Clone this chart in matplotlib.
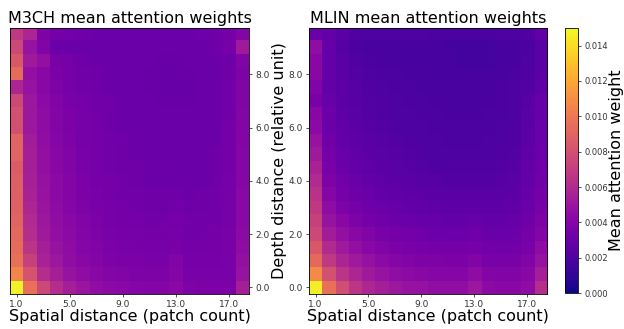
import numpy as np
import matplotlib
matplotlib.use("Agg")
import matplotlib.pyplot as plt

# mean attention weights (x1e-3), rows = depth 0.0 .. 9.5 (step 0.5), cols = spatial 1..18
m3ch_weights = [
    [14.8, 9.6, 7.6, 6.2, 5.4, 4.9, 4.5, 4.3, 4.2, 4.1, 4.0, 4.0, 4.2, 3.8, 3.7, 3.7, 3.7, 5.4],
    [10.6, 8.2, 6.2, 5.4, 4.8, 4.4, 4.2, 4.0, 3.9, 3.8, 3.8, 3.8, 4.0, 3.6, 3.6, 3.6, 3.6, 4.8],
    [9.6, 7.2, 5.6, 5.0, 4.5, 4.2, 4.0, 3.8, 3.7, 3.7, 3.6, 3.6, 3.9, 3.5, 3.5, 3.5, 3.6, 4.6],
    [9.4, 6.6, 5.4, 4.8, 4.4, 4.1, 3.9, 3.7, 3.6, 3.6, 3.5, 3.5, 3.6, 3.4, 3.4, 3.4, 3.6, 4.4],
    [9.2, 6.2, 5.2, 4.6, 4.3, 4.0, 3.8, 3.6, 3.5, 3.5, 3.4, 3.4, 3.5, 3.3, 3.3, 3.4, 3.6, 4.3],
    [9.0, 6.0, 5.0, 4.5, 4.2, 3.9, 3.7, 3.5, 3.4, 3.4, 3.3, 3.3, 3.4, 3.3, 3.3, 3.3, 3.5, 4.2],
    [8.9, 5.8, 4.9, 4.4, 4.1, 3.8, 3.6, 3.5, 3.4, 3.3, 3.2, 3.2, 3.3, 3.2, 3.2, 3.3, 3.5, 4.2],
    [8.8, 5.6, 4.8, 4.3, 4.0, 3.7, 3.6, 3.4, 3.3, 3.3, 3.2, 3.2, 3.2, 3.1, 3.2, 3.3, 3.5, 4.2],
    [8.7, 5.5, 4.7, 4.3, 4.0, 3.7, 3.5, 3.4, 3.3, 3.2, 3.1, 3.1, 3.1, 3.1, 3.1, 3.2, 3.5, 4.1],
    [8.6, 5.4, 4.6, 4.2, 3.9, 3.6, 3.5, 3.3, 3.2, 3.2, 3.1, 3.1, 3.1, 3.0, 3.1, 3.2, 3.4, 4.1],
    [9.0, 5.4, 4.6, 4.2, 3.9, 3.6, 3.4, 3.3, 3.2, 3.1, 3.0, 3.0, 3.0, 3.0, 3.1, 3.2, 3.4, 4.1],
    [9.0, 5.3, 4.5, 4.1, 3.8, 3.5, 3.4, 3.3, 3.2, 3.1, 3.0, 3.0, 3.0, 3.0, 3.0, 3.1, 3.4, 4.0],
    [8.0, 5.0, 4.4, 4.0, 3.7, 3.5, 3.4, 3.2, 3.1, 3.1, 3.0, 3.0, 3.0, 3.0, 3.0, 3.1, 3.4, 4.0],
    [8.0, 5.0, 4.4, 4.0, 3.7, 3.5, 3.3, 3.2, 3.1, 3.0, 3.0, 3.0, 3.0, 3.0, 3.0, 3.1, 3.3, 4.0],
    [7.6, 5.0, 4.3, 3.9, 3.6, 3.4, 3.3, 3.2, 3.1, 3.0, 3.0, 2.9, 2.9, 2.9, 3.0, 3.1, 3.3, 3.9],
    [5.8, 4.8, 4.2, 3.8, 3.5, 3.3, 3.2, 3.1, 3.0, 3.0, 2.9, 2.9, 2.9, 2.9, 3.0, 3.1, 3.3, 3.9],
    [9.4, 4.6, 4.2, 3.7, 3.4, 3.3, 3.2, 3.1, 3.0, 3.0, 2.9, 2.9, 2.9, 2.9, 3.0, 3.0, 3.2, 3.8],
    [8.4, 5.2, 4.6, 3.6, 3.4, 3.2, 3.1, 3.1, 3.0, 3.0, 3.0, 2.9, 2.9, 3.0, 3.0, 3.1, 3.2, 3.9],
    [7.6, 4.8, 3.9, 3.1, 3.0, 3.0, 3.0, 3.0, 3.0, 3.0, 3.0, 3.0, 3.0, 3.0, 3.1, 3.2, 3.4, 5.2],
    [6.8, 5.8, 3.8, 3.4, 3.3, 3.2, 3.1, 3.1, 3.1, 3.1, 3.1, 3.1, 3.1, 3.1, 3.2, 3.2, 3.4, 4.0],
]

mlin_weights = [
    [14.6, 9.6, 7.8, 6.6, 5.9, 5.4, 5.0, 4.8, 4.7, 4.5, 4.5, 4.5, 5.0, 4.3, 4.2, 4.2, 4.4, 6.2],
    [10.8, 8.0, 6.6, 5.8, 5.2, 4.8, 4.5, 4.3, 4.2, 4.1, 4.1, 4.1, 4.4, 4.0, 3.9, 3.9, 4.2, 5.4],
    [9.2, 6.8, 5.7, 5.1, 4.7, 4.3, 4.1, 3.9, 3.8, 3.8, 3.7, 3.7, 3.9, 3.6, 3.6, 3.6, 3.9, 4.8],
    [8.4, 6.0, 5.1, 4.6, 4.2, 3.9, 3.7, 3.6, 3.5, 3.4, 3.4, 3.4, 3.5, 3.3, 3.3, 3.3, 3.6, 4.4],
    [7.6, 5.3, 4.6, 4.2, 3.9, 3.6, 3.4, 3.3, 3.2, 3.1, 3.1, 3.1, 3.2, 3.0, 3.0, 3.1, 3.4, 4.0],
    [7.2, 4.8, 4.2, 3.8, 3.5, 3.3, 3.1, 3.0, 2.9, 2.9, 2.8, 2.8, 2.9, 2.8, 2.8, 2.9, 3.2, 3.8],
    [6.8, 4.4, 3.8, 3.5, 3.2, 3.0, 2.9, 2.8, 2.7, 2.6, 2.6, 2.6, 2.6, 2.6, 2.6, 2.7, 3.0, 3.6],
    [6.4, 4.1, 3.5, 3.2, 3.0, 2.8, 2.7, 2.6, 2.5, 2.4, 2.4, 2.4, 2.4, 2.4, 2.4, 2.5, 2.9, 3.4],
    [6.0, 3.8, 3.3, 3.0, 2.8, 2.6, 2.5, 2.4, 2.3, 2.3, 2.2, 2.2, 2.2, 2.2, 2.3, 2.4, 2.8, 3.3],
    [5.6, 3.6, 3.1, 2.8, 2.6, 2.5, 2.4, 2.3, 2.2, 2.1, 2.1, 2.1, 2.1, 2.1, 2.2, 2.3, 2.7, 3.2],
    [5.2, 3.4, 2.9, 2.7, 2.5, 2.4, 2.3, 2.2, 2.1, 2.0, 2.0, 2.0, 2.0, 2.0, 2.1, 2.2, 2.6, 3.1],
    [4.8, 3.2, 2.8, 2.6, 2.4, 2.3, 2.2, 2.1, 2.0, 2.0, 1.9, 1.9, 1.9, 2.0, 2.0, 2.1, 2.5, 3.0],
    [4.3, 3.1, 2.7, 2.5, 2.3, 2.2, 2.1, 2.0, 2.0, 1.9, 1.9, 1.9, 1.9, 1.9, 2.0, 2.1, 2.4, 3.0],
    [4.2, 3.0, 2.6, 2.4, 2.2, 2.1, 2.0, 2.0, 1.9, 1.9, 1.8, 1.8, 1.8, 1.9, 1.9, 2.0, 2.4, 2.9],
    [3.6, 2.9, 2.5, 2.3, 2.2, 2.1, 2.0, 1.9, 1.9, 1.8, 1.8, 1.8, 1.8, 1.8, 1.9, 2.0, 2.3, 2.9],
    [3.9, 2.8, 2.5, 2.3, 2.1, 2.0, 1.9, 1.9, 1.8, 1.8, 1.8, 1.8, 1.8, 1.8, 1.9, 2.0, 2.2, 2.6],
    [4.2, 2.8, 2.4, 2.2, 2.0, 1.9, 1.9, 1.8, 1.8, 1.7, 1.7, 1.7, 1.7, 1.7, 1.8, 1.9, 2.1, 2.5],
    [4.2, 2.8, 2.4, 2.1, 1.9, 1.8, 1.8, 1.7, 1.7, 1.7, 1.7, 1.6, 1.6, 1.6, 1.7, 1.8, 2.0, 2.4],
    [4.5, 2.8, 2.3, 1.9, 1.8, 1.8, 1.8, 1.7, 1.7, 1.7, 1.6, 1.6, 1.6, 1.6, 1.7, 1.7, 1.9, 2.4],
    [3.0, 2.8, 2.4, 2.1, 2.0, 2.0, 2.0, 2.0, 2.0, 1.9, 1.9, 1.9, 1.9, 1.9, 2.0, 2.0, 2.1, 2.7],
]

spatial_ticks = [1, 5, 9, 13, 17]
depth_ticks = [0, 2, 4, 6, 8]
cbar_ticks = [0.000, 0.002, 0.004, 0.006, 0.008, 0.010, 0.012, 0.014]

m3ch = np.array(m3ch_weights) * 1e-3
mlin = np.array(mlin_weights) * 1e-3
n_depth, n_spatial = m3ch.shape
ext = [0.5, n_spatial + 0.5, -0.25, (n_depth - 1) * 0.5 + 0.25]

fs = 11.5
fig = plt.figure(figsize=(6.24, 3.29), dpi=100)
ax1 = fig.add_axes([0.016, 0.106, 0.383, 0.810])
ax2 = fig.add_axes([0.495, 0.106, 0.382, 0.810])
cax = fig.add_axes([0.906, 0.109, 0.021, 0.806])

for ax, data, title in [(ax1, m3ch, "M3CH mean attention weights"),
                        (ax2, mlin, "MLIN mean attention weights")]:
    im = ax.imshow(data, origin="lower", cmap="plasma", vmin=0, vmax=0.015,
                   extent=ext, aspect="auto", interpolation="nearest")
    ax.set_title(title, fontsize=fs, pad=3)
    ax.set_xticks(spatial_ticks)
    ax.set_xticklabels(["%.1f" % t for t in spatial_ticks])
    ax.set_yticks(depth_ticks)
    ax.set_yticklabels(["%.1f" % t for t in depth_ticks])
    ax.tick_params(labelsize=6.5, length=2.5, width=0.6, pad=2, colors="#333333")
    ax.set_xlabel("Spatial distance (patch count)", fontsize=fs, labelpad=0)
    for s in ax.spines.values():
        s.set_linewidth(0.6)

ax1.yaxis.tick_right()
ax1.yaxis.set_label_position("right")
ax1.set_ylabel("Depth distance (relative unit)", fontsize=fs, labelpad=2)

cb = fig.colorbar(im, cax=cax)
cb.set_ticks(cbar_ticks)
cb.set_ticklabels(["%.3f" % t for t in cbar_ticks])
cb.ax.tick_params(labelsize=6, length=2.5, width=0.6, pad=1.5, colors="#333333")
cb.outline.set_linewidth(0.6)
cb.set_label("Mean attention weight", fontsize=fs, labelpad=1)

fig.savefig("out.png", dpi=100)
